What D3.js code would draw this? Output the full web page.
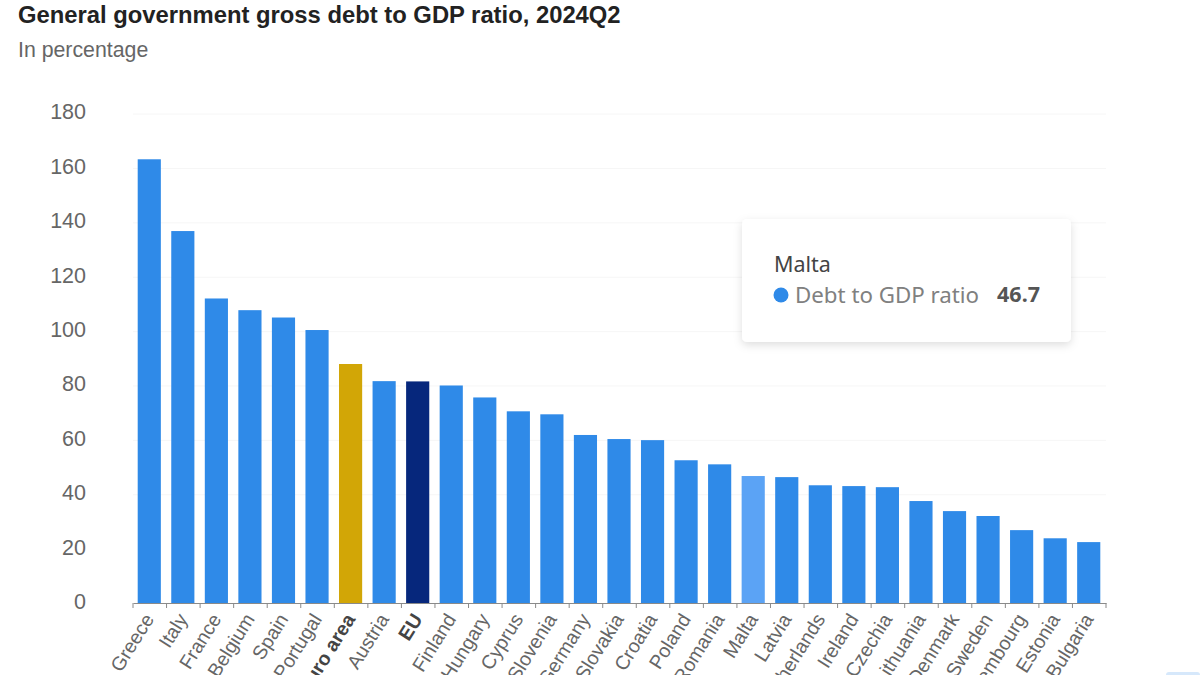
<!DOCTYPE html>
<html>
<head>
<meta charset="utf-8">
<script src="https://d3js.org/d3.v7.min.js"></script>
<style>
html, body { margin: 0; padding: 0; background: #fff; overflow: hidden; }
svg { display: block; font-family: "Liberation Sans", Arial, sans-serif; }
.grid line { stroke: #f6f6f6; }
.grid path { display: none; }
.yaxis path, .yaxis line { display: none; }
.yaxis text { font-size: 21.5px; fill: #666; }
.xaxis path, .xaxis line { stroke: #8a8a8a; }
.xaxis text { font-size: 19.5px; fill: #666; }
</style>
</head>
<body>
<div id="chart"></div>
<script>
var countries = ["Greece","Italy","France","Belgium","Spain","Portugal","Euro area","Austria","EU","Finland","Hungary","Cyprus","Slovenia","Germany","Slovakia","Croatia","Poland","Romania","Malta","Latvia","Netherlands","Ireland","Czechia","Lithuania","Denmark","Sweden","Luxembourg","Estonia","Bulgaria"];
var debtRatio = [163.2,136.8,112,107.7,105,100.4,87.9,81.6,81.5,80,75.6,70.5,69.4,61.8,60.3,59.9,52.5,51,46.7,46.3,43.3,43,42.6,37.5,33.8,32,26.8,23.8,22.4];
var yTicks = [0,20,40,60,80,100,120,140,160,180];
var boldLabels = ["Euro area","EU"];

var w = 1200, h = 675;
var left = 133, right = 1106, top_ = 113.6, bottom = 603;

var svg = d3.select("#chart").append("svg")
    .attr("width", w)
    .attr("height", h);

var x = d3.scaleBand().domain(countries).range([left, right]).paddingInner(0.31).paddingOuter(0.155);
var y = d3.scaleLinear().domain([0, 180]).range([bottom, top_]);

function barColor(name) {
    if (name == "Euro area") return "#d2a606";
    if (name == "EU") return "#06277c";
    if (name == "Malta") return "#5ba3f5";
    return "#2f8ae8";
}

svg.append("text").attr("x", 18).attr("y", 23)
    .attr("font-size", 23.8).attr("font-weight", "bold").attr("fill", "#222")
    .text("General government gross debt to GDP ratio, 2024Q2");
svg.append("text").attr("x", 18).attr("y", 57)
    .attr("font-size", 21.3).attr("fill", "#666")
    .text("In percentage");

// grid
svg.append("g").attr("class", "grid")
    .attr("transform", "translate(" + left + ",0)")
    .call(d3.axisLeft(y).tickValues(yTicks.slice(2)).tickSize(left - right).tickFormat(""));

svg.append("g").attr("class", "yaxis")
    .attr("transform", "translate(88,-1.5)")
    .call(d3.axisLeft(y).tickValues(yTicks).tickSize(0).tickPadding(2));

svg.selectAll("rect.bar").data(countries).enter()
    .append("rect")
    .attr("class", "bar")
    .attr("x", d => x(d) - 0.5)
    .attr("width", x.bandwidth())
    .attr("y", (d, i) => y(debtRatio[i]))
    .attr("height", (d, i) => bottom - y(debtRatio[i]))
    .attr("fill", barColor);

var xAxis = svg.append("g").attr("class", "xaxis")
    .attr("transform", "translate(0," + bottom + ")")
    .call(d3.axisBottom(x).tickSize(0).tickPadding(0));

// ticks sit on the band edges
xAxis.selectAll(".tick line").remove();
var edges = countries.map(d => x(d) - x.step() * 0.155).concat([right]);
xAxis.selectAll("line.edge").data(edges).enter()
    .append("line").attr("class", "edge")
    .attr("x1", d => d).attr("x2", d => d)
    .attr("y1", 0).attr("y2", 5);

xAxis.selectAll(".tick text")
    .attr("text-anchor", "end")
    .attr("dy", 0)
    .attr("transform", "translate(5,16) rotate(-58)")
    .attr("font-weight", d => boldLabels.indexOf(d) >= 0 ? "bold" : "normal")
    .style("fill", d => boldLabels.indexOf(d) >= 0 ? "#444" : null);

// tooltip
var tip = svg.append("g").attr("transform", "translate(742,219)");
var blur = svg.append("defs").append("filter").attr("id", "tipShadow")
    .attr("x", "-10%").attr("y", "-10%").attr("width", "120%").attr("height", "125%");
blur.append("feDropShadow").attr("dx", 0).attr("dy", 3).attr("stdDeviation", 4)
    .attr("flood-color", "#000").attr("flood-opacity", 0.13);
tip.append("rect").attr("width", 329).attr("height", 123).attr("rx", 5)
    .attr("fill", "#fff").attr("filter", "url(#tipShadow)");
tip.append("text").attr("x", 32).attr("y", 53)
    .style("font-family", "'Noto Sans', sans-serif").attr("font-size", 21.5).attr("fill", "#444")
    .text("Malta");
tip.append("circle").attr("cx", 39).attr("cy", 76).attr("r", 7.5).attr("fill", "#2f8ae8");
tip.append("text").attr("x", 53).attr("y", 84)
    .style("font-family", "'Noto Sans', sans-serif").attr("font-size", 22.3).attr("fill", "#808080")
    .text("Debt to GDP ratio");
tip.append("text").attr("x", 298).attr("y", 83).attr("text-anchor", "end")
    .style("font-family", "'Noto Sans', sans-serif").attr("font-size", 21.5).attr("font-weight", "bold").attr("fill", "#555")
    .text(debtRatio[countries.indexOf("Malta")]);

// sliver of a button at the bottom edge
svg.append("rect").attr("x", 1166).attr("y", 672).attr("width", 34).attr("height", 6).attr("rx", 3).attr("fill", "#d6e8fb");
</script>
</body>
</html>
